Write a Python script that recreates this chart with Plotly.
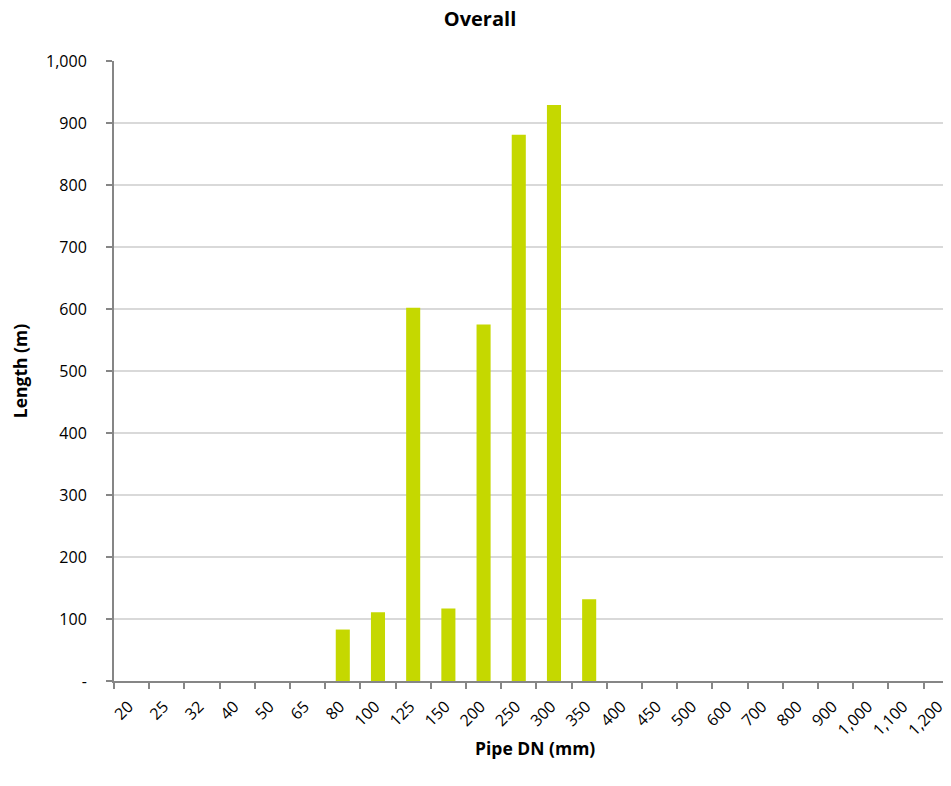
import plotly.graph_objects as go

categories = ["20", "25", "32", "40", "50", "65", "80", "100", "125", "150", "200", "250",
              "300", "350", "400", "450", "500", "600", "700", "800", "900", "1,000", "1,100", "1,200"]
lengths = [0, 0, 0, 0, 0, 0, 83, 111, 602, 117, 575, 881, 929, 132, 0, 0, 0, 0, 0, 0, 0, 0, 0, 0]
y_tickvals = [0, 100, 200, 300, 400, 500, 600, 700, 800, 900, 1000]
y_ticktext = ["-", "100", "200", "300", "400", "500", "600", "700", "800", "900", "1,000"]

FONT = "Open Sans, Noto Sans, sans-serif"
AXIS = "#868686"
W, H = 943, 778
ML, MT, MB = 106, 53, 105
plot_w = W - ML
plot_h = H - MT - MB

fig = go.Figure(go.Bar(x=categories, y=lengths, marker_color="#c5d800",
                       marker_line_width=0))

fig.update_layout(
    width=W, height=H,
    margin=dict(l=ML, r=0, t=MT, b=MB, pad=0),
    paper_bgcolor="white", plot_bgcolor="white",
    bargap=0.6,
    showlegend=False,
    font=dict(family=FONT, size=16, color="#000000"),
    title=dict(text="<b>Overall</b>", x=472 / W, xanchor="center", y=1 - 4 / H,
               yanchor="top", pad=dict(t=0),
               font=dict(family=FONT, size=20, color="#000000")),
    annotations=[dict(
        text="<b>Pipe DN (mm)</b>", xref="paper", yref="paper",
        x=(527 - ML) / plot_w, y=-(740 - (H - MB)) / plot_h,
        xanchor="center", yanchor="middle", showarrow=False,
        font=dict(family=FONT, size=17.5, color="#000000"),
    )],
)

fig.update_xaxes(
    type="category", range=[-0.5, 23.28],
    showline=True, linecolor=AXIS, linewidth=2,
    ticks="outside", tickson="boundaries", ticklen=6, tickcolor=AXIS, tickwidth=2,
    tickangle=-45, showgrid=False,
    ticklabelstandoff=8, ticklabelshift=-3,
    tickfont=dict(family=FONT, size=16),
)
fig.update_yaxes(
    range=[0, 1000], tickvals=y_tickvals, ticktext=y_ticktext,
    showline=True, linecolor=AXIS, linewidth=2,
    ticks="outside", ticklen=6, tickcolor=AXIS, tickwidth=2,
    ticklabelstandoff=16,
    showgrid=True, gridcolor="#d9d9d9", gridwidth=1.5, zeroline=False,
    tickfont=dict(family=FONT, size=16),
    title=dict(text="<b>Length (m)</b>", font=dict(family=FONT, size=17.5), standoff=16),
)

fig.write_html("out.html")
